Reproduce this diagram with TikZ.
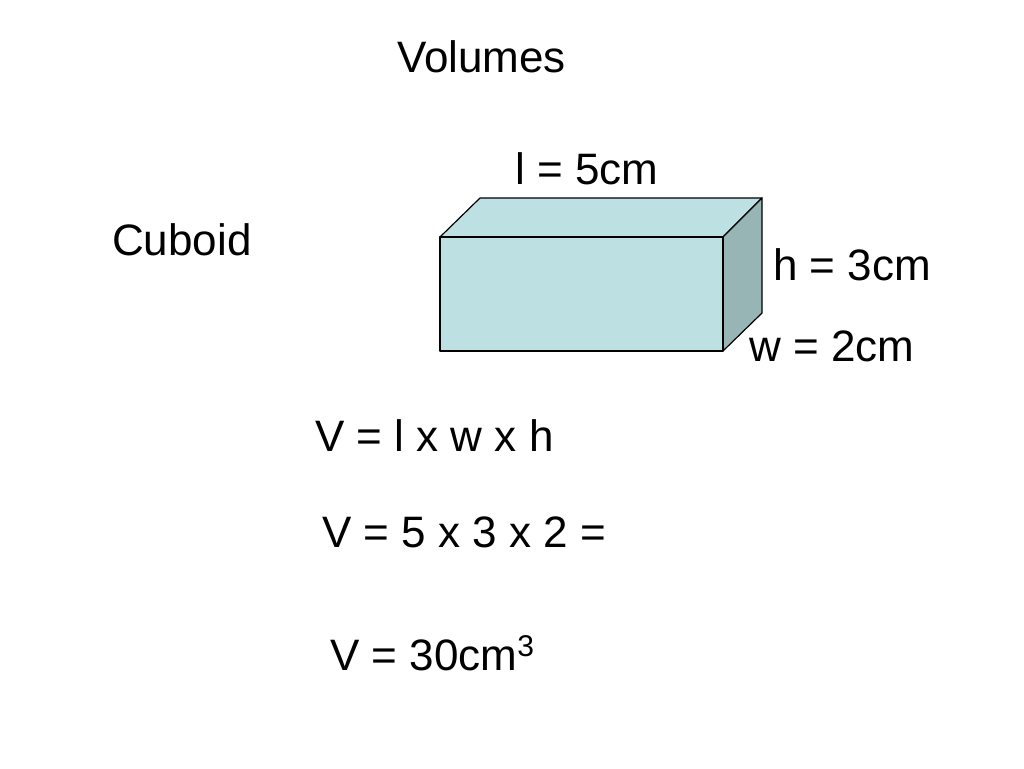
\documentclass[tikz,border=0pt]{standalone}
\usepackage{fontspec}
\setmainfont{Liberation Sans}
\begin{document}
\begin{tikzpicture}[x=1pt,y=-1pt,
  txt/.style={anchor=base west,inner sep=0pt,font=\fontsize{44}{48}\selectfont},
  face/.style={draw=black,line width=1.2pt,line join=round}]
\useasboundingbox (0,0) rectangle (1024,768);
\fill[white] (0,0) rectangle (1024,768);
\draw[face,fill={rgb,255:red,189;green,225;blue,227}] (440,237) -- (480,198) -- (762,198) -- (723,237) -- cycle;
\draw[face,fill={rgb,255:red,151;green,181;blue,181}] (723,237) -- (762,198) -- (762,313) -- (723,351) -- cycle;
\draw[face,fill={rgb,255:red,189;green,225;blue,227}] (440,237) rectangle (723,351);
\node[txt] (title) at (397,72) {Volumes};
\node[txt] (l) at (515,184) {l = 5cm};
\node[txt] (cub) at (112,255) {Cuboid};
\node[txt] (h) at (773,280) {h = 3cm};
\node[txt] (w) at (749,361) {w = 2cm};
\node[txt] (f1) at (315,451) {V = l x w x h};
\node[txt] (f2) at (322,547) {V = 5 x 3 x 2 =};
\node[txt] (f3) at (330,670) {V = 30cm\raisebox{0.3em}{\fontsize{30}{32}\selectfont 3}};
\end{tikzpicture}
\end{document}
